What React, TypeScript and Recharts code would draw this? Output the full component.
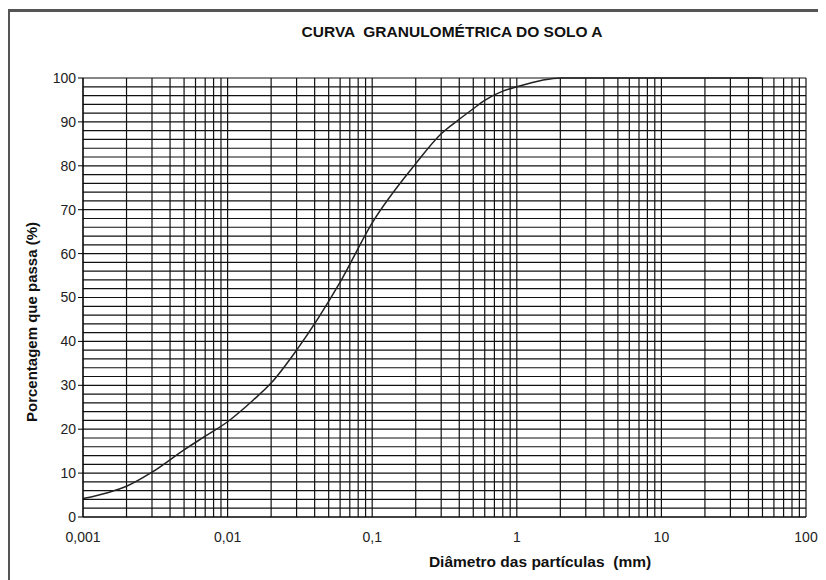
import React from 'react';
import { LineChart, Line, XAxis, YAxis, CartesianGrid, ReferenceLine } from 'recharts';

// diameter (mm) and % passing
const diameters = [0.001, 0.0015, 0.002, 0.003, 0.005, 0.007, 0.01, 0.015, 0.02, 0.03, 0.06, 0.1, 0.2, 0.3, 0.4, 0.5, 0.6, 0.8, 1, 1.5, 2, 50];
const passing = [4.2, 5.6, 7, 10.2, 15.3, 18.4, 21.7, 26.6, 30.5, 38, 53.5, 67, 80.5, 87.3, 90.6, 93, 94.9, 97, 98, 99.5, 100, 100];

const decades = [0.001, 0.01, 0.1, 1, 10];
const multipliers = [1, 2, 3, 4, 5, 6, 7, 8, 9];
const xTicks = [...decades.flatMap(d => multipliers.map(m => +(d * m).toPrecision(3))), 100];
const yTicks = [0, 10, 20, 30, 40, 50, 60, 70, 80, 90, 100];
const yMinor = [2, 4, 6, 8, 12, 14, 16, 18, 22, 24, 26, 28, 32, 34, 36, 38, 42, 44, 46, 48, 52, 54, 56, 58, 62, 64, 66, 68, 72, 74, 76, 78, 82, 84, 86, 88, 92, 94, 96, 98];

const data = diameters.map((d, i) => ({ d, p: passing[i] }));

const isDecade = (v: number) => Math.abs(Math.log10(v) - Math.round(Math.log10(v))) < 1e-9;
const fmtX = (v: number) => (isDecade(v) ? String(v).replace('.', ',') : '');

const font = '"Liberation Sans", Arial, sans-serif';
const gridColor = '#111';

const App: React.FC = () => {
  return (
    <div style={{ position: 'relative', width: 818, height: 572, fontFamily: font, overflow: 'hidden' }}>
      <div
        style={{
          position: 'absolute',
          left: -1,
          top: 1,
          width: 840,
          height: 600,
          borderLeft: '3px solid #555',
          borderTop: '3px solid #555',
          boxSizing: 'border-box',
        }}
      />
      <div
        style={{
          position: 'absolute',
          left: 444,
          top: 24,
          transform: 'translate(-50%, -50%)',
          fontWeight: 'bold',
          fontSize: 15.5,
          color: '#111',
          whiteSpace: 'pre',
        }}
      >
        {'CURVA  GRANULOMÉTRICA DO SOLO A'}
      </div>
      <div
        style={{
          position: 'absolute',
          left: 23,
          top: 314,
          transform: 'translate(-50%, -50%) rotate(-90deg)',
          fontWeight: 'bold',
          fontSize: 15,
          color: '#111',
          whiteSpace: 'nowrap',
        }}
      >
        Porcentagem que passa (%)
      </div>
      <div
        style={{
          position: 'absolute',
          left: 532,
          top: 554,
          transform: 'translate(-50%, -50%)',
          fontWeight: 'bold',
          fontSize: 15.5,
          color: '#111',
          whiteSpace: 'pre',
        }}
      >
        {'Diâmetro das partículas  (mm)'}
      </div>
      <LineChart width={818} height={572} data={data} margin={{ top: 70, right: 20, left: 30, bottom: 33 }} style={{ position: 'absolute', left: 0, top: 0 }}>
        <CartesianGrid stroke={gridColor} strokeWidth={1.2} />
        {yMinor.map(v => (
          <ReferenceLine key={v} y={v} stroke={gridColor} strokeWidth={1.2} ifOverflow="hidden" />
        ))}
        <XAxis
          dataKey="d"
          type="number"
          scale="log"
          domain={[0.001, 100]}
          ticks={xTicks}
          interval={0}
          tickFormatter={fmtX}
          tickLine={false}
          axisLine={{ stroke: '#000' }}
          tick={{ fill: '#222', fontSize: 14, fontFamily: font }}
          tickMargin={9}
          height={30}
          allowDataOverflow
        />
        <YAxis
          type="number"
          domain={[0, 100]}
          ticks={yTicks}
          interval={0}
          tickSize={5}
          tickLine={{ stroke: '#000' }}
          axisLine={{ stroke: '#000' }}
          tick={{ fill: '#222', fontSize: 14, fontFamily: font }}
          width={45}
        />
        <Line type="monotone" dataKey="p" stroke="#222" strokeWidth={1.5} dot={false} isAnimationActive={false} />
      </LineChart>
    </div>
  );
};

export default App;
